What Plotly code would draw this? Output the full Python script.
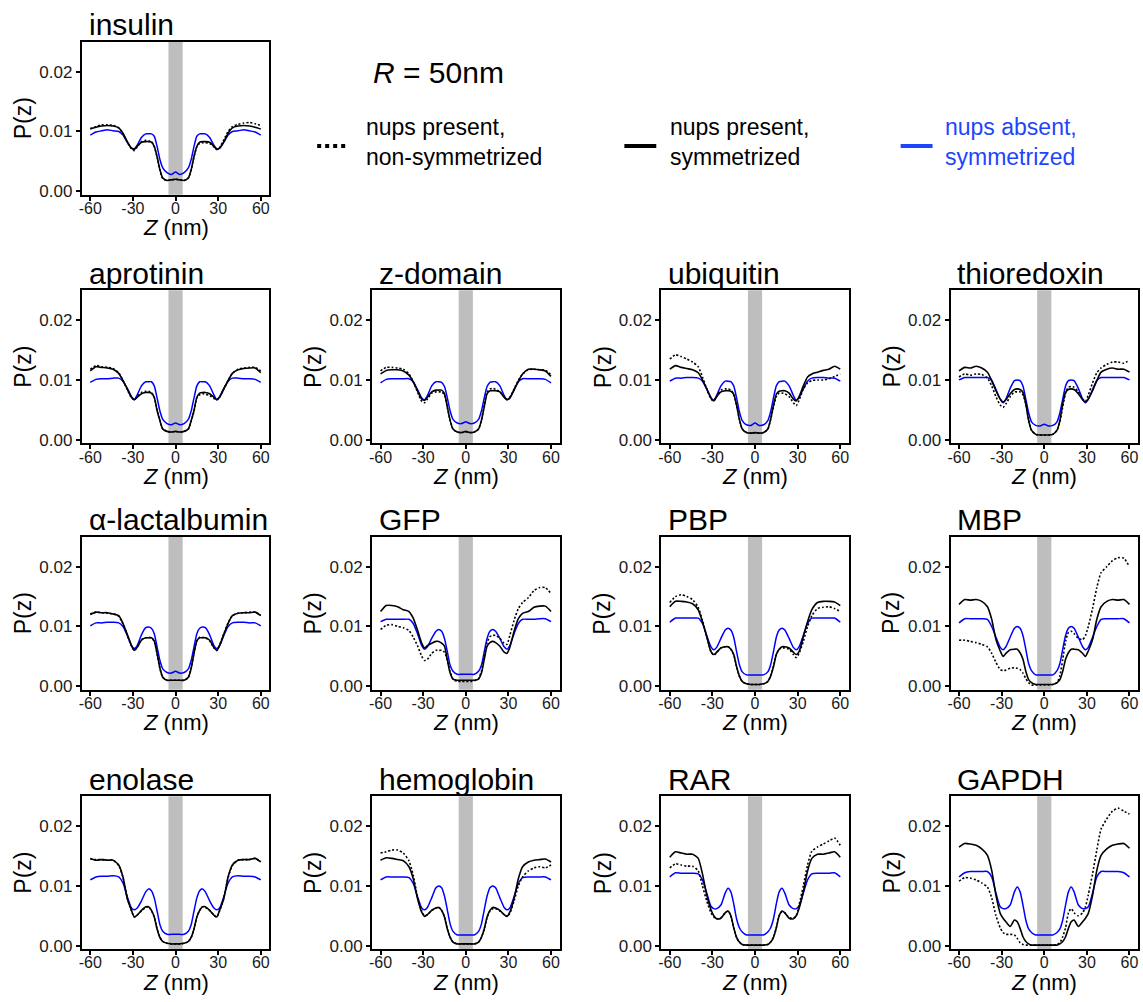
import plotly.graph_objects as go

W, H = 1143, 1002

# ---------------- data ----------------
Z = [-60, -56, -52, -48, -44, -40, -37, -34, -31, -29, -27, -24, -21, -19, -17, -15, -13, -11, -9, -6, -3,
     0, 3, 6, 9, 11, 13, 15, 17, 19, 21, 24, 27, 29, 31, 34, 37, 40, 44, 48, 52, 56, 60]

BAND = [-5, 5]
X_TICKS = [-60, -30, 0, 30, 60]
X_TICK_LABELS = ["-60", "-30", "0", "30", "60"]
Y_TICKS = [0, 0.01, 0.02]
Y_TICK_LABELS = ["0.00", "0.01", "0.02"]

PROTEINS = ["insulin", "aprotinin", "z-domain", "ubiquitin", "thioredoxin",
            "α-lactalbumin", "GFP", "PBP", "MBP",
            "enolase", "hemoglobin", "RAR", "GAPDH"]

SERIES_NAMES = ["nups present,<br>non-symmetrized", "nups present,<br>symmetrized", "nups absent,<br>symmetrized"]

insulin_dot = [.0105, .0108, .0111, .0111, .0110, .0106, .0096, .0082, .0071, .0068, .0074, .0083, .0085, .0084, .0083, .0075, .0057, .0035, .0021, .0018, .0019,
               .0020, .0019, .0018, .0022, .0036, .0058, .0074, .0080, .0081, .0081, .0080, .0074, .0070, .0073, .0086, .0100, .0108, .0112, .0114, .0115, .0113, .0110]
insulin_sym = [.0104, .0107, .0109, .0110, .0109, .0106, .0097, .0083, .0072, .0070, .0075, .0082, .0083, .0083, .0082, .0075, .0058, .0036, .0022, .0018, .0019,
               .0020, .0019, .0018, .0022, .0036, .0058, .0075, .0082, .0083, .0083, .0082, .0075, .0070, .0072, .0083, .0097, .0106, .0109, .0110, .0109, .0107, .0104]
insulin_abs = [.0094, .0099, .0101, .0103, .0101, .0100, .0094, .0082, .0072, .0071, .0077, .0090, .0096, .0096, .0096, .0092, .0075, .0053, .0039, .0031, .0028,
               .0032, .0028, .0031, .0039, .0053, .0075, .0092, .0096, .0096, .0096, .0090, .0077, .0071, .0072, .0082, .0094, .0100, .0101, .0103, .0101, .0099, .0094]

aprotinin_dot = [.0118, .0124, .0122, .0121, .0119, .0112, .0099, .0084, .0070, .0067, .0072, .0079, .0081, .0081, .0079, .0071, .0049, .0032, .0018, .0014, .0013,
                 .0014, .0013, .0014, .0018, .0031, .0048, .0070, .0075, .0077, .0076, .0074, .0069, .0067, .0071, .0085, .0099, .0111, .0118, .0120, .0121, .0121, .0115]
aprotinin_sym = [.0115, .0122, .0121, .0120, .0118, .0111, .0099, .0085, .0071, .0067, .0071, .0077, .0079, .0079, .0078, .0071, .0049, .0032, .0018, .0014, .0013,
                 .0014, .0013, .0014, .0018, .0032, .0049, .0071, .0078, .0079, .0079, .0077, .0071, .0067, .0071, .0085, .0099, .0111, .0117, .0119, .0120, .0120, .0112]
aprotinin_abs = [.0096, .0101, .0102, .0102, .0103, .0103, .0098, .0086, .0072, .0067, .0075, .0090, .0097, .0097, .0097, .0090, .0070, .0048, .0034, .0027, .0025,
                 .0028, .0025, .0027, .0034, .0048, .0070, .0090, .0097, .0097, .0097, .0090, .0075, .0067, .0072, .0086, .0098, .0103, .0103, .0102, .0102, .0101, .0096]

zdomain_dot = [.0115, .0121, .0121, .0120, .0118, .0110, .0097, .0080, .0064, .0062, .0068, .0078, .0080, .0080, .0080, .0075, .0054, .0032, .0018, .0013, .0012,
               .0013, .0012, .0013, .0018, .0033, .0058, .0080, .0085, .0086, .0084, .0080, .0072, .0068, .0071, .0085, .0099, .0110, .0117, .0118, .0117, .0116, .0109]
zdomain_sym = [.0110, .0116, .0117, .0117, .0115, .0108, .0097, .0082, .0068, .0066, .0071, .0080, .0083, .0083, .0083, .0077, .0055, .0032, .0018, .0013, .0012,
               .0014, .0012, .0013, .0018, .0032, .0055, .0077, .0082, .0082, .0082, .0080, .0071, .0067, .0070, .0083, .0098, .0110, .0118, .0118, .0117, .0115, .0106]
zdomain_abs = [.0095, .0101, .0102, .0102, .0102, .0102, .0097, .0084, .0070, .0067, .0074, .0090, .0097, .0097, .0096, .0089, .0070, .0048, .0034, .0028, .0027,
               .0030, .0027, .0028, .0034, .0048, .0070, .0089, .0096, .0097, .0097, .0090, .0074, .0067, .0070, .0084, .0097, .0102, .0102, .0102, .0102, .0101, .0095]

ubiquitin_dot = [.0135, .0142, .0139, .0135, .0130, .0122, .0105, .0085, .0068, .0065, .0073, .0083, .0085, .0085, .0083, .0076, .0058, .0034, .0018, .0012, .0011,
                 .0011, .0011, .0012, .0018, .0034, .0055, .0072, .0078, .0078, .0077, .0072, .0062, .0057, .0066, .0085, .0095, .0099, .0100, .0100, .0102, .0106, .0110]
ubiquitin_sym = [.0118, .0124, .0121, .0119, .0117, .0112, .0100, .0085, .0070, .0065, .0072, .0080, .0082, .0082, .0081, .0076, .0058, .0034, .0018, .0012, .0011,
                 .0012, .0011, .0012, .0018, .0034, .0058, .0076, .0081, .0082, .0082, .0078, .0068, .0065, .0072, .0090, .0105, .0110, .0113, .0116, .0118, .0123, .0118]
ubiquitin_abs = [.0098, .0103, .0103, .0104, .0104, .0103, .0098, .0085, .0070, .0066, .0074, .0090, .0098, .0098, .0097, .0090, .0070, .0047, .0032, .0025, .0024,
                 .0028, .0024, .0025, .0032, .0047, .0070, .0090, .0097, .0098, .0098, .0090, .0074, .0066, .0070, .0085, .0098, .0103, .0104, .0104, .0103, .0103, .0098]

thioredoxin_dot = [.0105, .0110, .0108, .0110, .0109, .0103, .0090, .0072, .0058, .0054, .0060, .0072, .0080, .0080, .0080, .0075, .0060, .0034, .0016, .0009, .0008,
                   .0008, .0008, .0009, .0016, .0030, .0055, .0078, .0088, .0089, .0088, .0080, .0068, .0064, .0075, .0095, .0112, .0120, .0126, .0130, .0130, .0128, .0133]
thioredoxin_sym = [.0115, .0121, .0120, .0123, .0120, .0113, .0099, .0082, .0068, .0063, .0067, .0077, .0084, .0085, .0084, .0079, .0060, .0032, .0016, .0009, .0008,
                   .0008, .0008, .0009, .0016, .0032, .0060, .0079, .0084, .0085, .0084, .0077, .0067, .0063, .0068, .0082, .0099, .0113, .0118, .0120, .0118, .0118, .0113]
thioredoxin_abs = [.0100, .0104, .0104, .0104, .0104, .0104, .0099, .0084, .0068, .0062, .0068, .0086, .0099, .0100, .0099, .0090, .0068, .0045, .0030, .0024, .0023,
                   .0026, .0023, .0024, .0030, .0045, .0068, .0090, .0099, .0100, .0099, .0086, .0068, .0062, .0068, .0084, .0099, .0104, .0104, .0104, .0104, .0104, .0100]

lactalbumin_dot = [.0121, .0124, .0123, .0122, .0121, .0117, .0104, .0086, .0067, .0060, .0066, .0078, .0081, .0082, .0081, .0075, .0054, .0030, .0015, .0010, .0010,
                   .0010, .0010, .0010, .0015, .0030, .0056, .0076, .0082, .0082, .0081, .0076, .0064, .0060, .0069, .0088, .0106, .0118, .0122, .0123, .0124, .0124, .0119]
lactalbumin_sym = [.0120, .0124, .0123, .0123, .0121, .0118, .0105, .0087, .0068, .0060, .0065, .0077, .0081, .0081, .0081, .0076, .0055, .0030, .0015, .0010, .0010,
                   .0010, .0010, .0010, .0015, .0030, .0055, .0076, .0081, .0081, .0081, .0077, .0065, .0060, .0068, .0087, .0105, .0118, .0122, .0123, .0123, .0124, .0118]
lactalbumin_abs = [.0101, .0106, .0106, .0107, .0107, .0106, .0100, .0085, .0068, .0063, .0068, .0086, .0098, .0099, .0097, .0088, .0066, .0043, .0029, .0023, .0022,
                   .0025, .0022, .0023, .0029, .0043, .0066, .0088, .0097, .0099, .0098, .0086, .0068, .0063, .0068, .0085, .0100, .0106, .0107, .0107, .0106, .0106, .0101]

gfp_dot = [.0095, .0102, .0103, .0100, .0098, .0093, .0082, .0068, .0050, .0043, .0045, .0055, .0060, .0060, .0060, .0057, .0044, .0024, .0012, .0008, .0008,
           .0008, .0008, .0009, .0013, .0025, .0050, .0073, .0083, .0085, .0085, .0080, .0072, .0070, .0085, .0110, .0130, .0140, .0148, .0160, .0165, .0165, .0155]
gfp_sym = [.0125, .0135, .0135, .0133, .0128, .0125, .0114, .0094, .0072, .0064, .0068, .0072, .0075, .0075, .0072, .0067, .0044, .0022, .0012, .0010, .0010,
           .0010, .0010, .0010, .0012, .0022, .0045, .0067, .0073, .0075, .0073, .0067, .0057, .0055, .0065, .0092, .0113, .0122, .0125, .0132, .0134, .0134, .0125]
gfp_abs = [.0108, .0112, .0112, .0112, .0112, .0112, .0105, .0088, .0068, .0062, .0066, .0080, .0092, .0095, .0092, .0080, .0058, .0035, .0025, .0020, .0020,
           .0020, .0020, .0020, .0025, .0035, .0058, .0080, .0092, .0095, .0092, .0080, .0066, .0062, .0068, .0088, .0105, .0112, .0112, .0112, .0113, .0113, .0108]

pbp_dot = [.0140, .0150, .0153, .0150, .0145, .0132, .0110, .0083, .0058, .0052, .0056, .0064, .0066, .0066, .0062, .0053, .0033, .0017, .0008, .0004, .0003,
           .0003, .0003, .0004, .0008, .0017, .0033, .0053, .0062, .0064, .0064, .0062, .0053, .0048, .0055, .0075, .0100, .0118, .0130, .0132, .0133, .0130, .0125]
pbp_sym = [.0133, .0142, .0142, .0141, .0138, .0128, .0108, .0083, .0058, .0053, .0057, .0064, .0066, .0066, .0062, .0053, .0033, .0017, .0008, .0004, .0003,
           .0003, .0003, .0004, .0008, .0017, .0033, .0053, .0062, .0066, .0066, .0064, .0057, .0053, .0058, .0083, .0108, .0128, .0140, .0142, .0142, .0141, .0135]
pbp_abs = [.0107, .0114, .0114, .0114, .0114, .0114, .0105, .0085, .0066, .0061, .0065, .0080, .0094, .0097, .0094, .0082, .0058, .0036, .0024, .0019, .0019,
           .0019, .0019, .0019, .0024, .0036, .0058, .0082, .0094, .0097, .0094, .0080, .0065, .0061, .0066, .0085, .0105, .0114, .0114, .0114, .0114, .0114, .0107]

mbp_dot = [.0077, .0077, .0075, .0073, .0070, .0066, .0055, .0040, .0028, .0026, .0027, .0030, .0031, .0030, .0028, .0022, .0013, .0006, .0002, .0002, .0002,
           .0002, .0002, .0003, .0006, .0018, .0045, .0075, .0090, .0092, .0088, .0080, .0078, .0085, .0100, .0130, .0165, .0190, .0200, .0210, .0215, .0214, .0200]
mbp_sym = [.0137, .0145, .0144, .0145, .0142, .0133, .0112, .0078, .0059, .0050, .0055, .0061, .0062, .0062, .0056, .0045, .0025, .0011, .0006, .0003, .0003,
           .0003, .0003, .0003, .0006, .0011, .0025, .0045, .0056, .0062, .0062, .0061, .0055, .0050, .0059, .0078, .0112, .0133, .0142, .0145, .0144, .0145, .0137]
mbp_abs = [.0106, .0113, .0113, .0113, .0113, .0112, .0100, .0082, .0065, .0061, .0066, .0082, .0097, .0100, .0097, .0085, .0062, .0038, .0026, .0019, .0019,
           .0019, .0019, .0019, .0026, .0038, .0062, .0085, .0097, .0100, .0097, .0082, .0066, .0061, .0065, .0082, .0100, .0112, .0113, .0113, .0113, .0113, .0106]

enolase_dot = [.0145, .0144, .0144, .0143, .0143, .0134, .0114, .0080, .0058, .0048, .0051, .0058, .0064, .0065, .0059, .0048, .0028, .0014, .0007, .0004, .0003,
               .0003, .0003, .0004, .0007, .0014, .0028, .0048, .0059, .0065, .0064, .0059, .0051, .0048, .0058, .0080, .0114, .0134, .0143, .0144, .0144, .0146, .0141]
enolase_sym = [.0146, .0143, .0144, .0143, .0143, .0135, .0115, .0079, .0059, .0048, .0051, .0059, .0065, .0065, .0059, .0048, .0028, .0014, .0007, .0004, .0003,
               .0003, .0003, .0004, .0007, .0014, .0028, .0048, .0059, .0065, .0065, .0059, .0051, .0048, .0059, .0079, .0115, .0135, .0143, .0144, .0144, .0146, .0140]
enolase_abs = [.0110, .0115, .0116, .0116, .0117, .0115, .0105, .0082, .0063, .0060, .0063, .0075, .0090, .0095, .0092, .0080, .0058, .0035, .0024, .0019, .0019,
               .0019, .0019, .0019, .0024, .0035, .0058, .0080, .0092, .0095, .0090, .0075, .0063, .0060, .0063, .0082, .0105, .0115, .0117, .0116, .0116, .0115, .0110]

hemoglobin_dot = [.0155, .0157, .0160, .0160, .0155, .0142, .0118, .0082, .0058, .0050, .0052, .0059, .0063, .0064, .0059, .0048, .0028, .0014, .0006, .0003, .0003,
                  .0003, .0003, .0003, .0006, .0014, .0028, .0047, .0058, .0062, .0062, .0058, .0052, .0049, .0054, .0075, .0100, .0115, .0125, .0130, .0132, .0130, .0135]
hemoglobin_sym = [.0143, .0147, .0146, .0144, .0142, .0132, .0112, .0079, .0056, .0049, .0052, .0059, .0063, .0064, .0059, .0048, .0028, .0014, .0006, .0003, .0003,
                  .0003, .0003, .0003, .0006, .0014, .0028, .0048, .0059, .0064, .0063, .0059, .0052, .0049, .0056, .0079, .0112, .0132, .0140, .0143, .0144, .0145, .0140]
hemoglobin_abs = [.0110, .0115, .0115, .0115, .0115, .0114, .0104, .0082, .0063, .0060, .0064, .0080, .0097, .0100, .0097, .0083, .0060, .0036, .0024, .0018, .0018,
                  .0018, .0018, .0018, .0024, .0036, .0060, .0083, .0097, .0100, .0097, .0080, .0064, .0060, .0063, .0082, .0104, .0114, .0115, .0115, .0115, .0115, .0110]

rar_dot = [.0130, .0137, .0135, .0133, .0133, .0125, .0100, .0075, .0055, .0048, .0045, .0047, .0055, .0058, .0050, .0030, .0014, .0006, .0002, .0001, .0001,
           .0001, .0001, .0001, .0002, .0006, .0014, .0030, .0050, .0057, .0055, .0047, .0046, .0050, .0068, .0100, .0135, .0158, .0165, .0170, .0175, .0180, .0168]
rar_sym = [.0148, .0157, .0155, .0153, .0153, .0146, .0120, .0085, .0060, .0050, .0045, .0046, .0055, .0058, .0050, .0030, .0014, .0006, .0002, .0001, .0001,
           .0001, .0001, .0001, .0002, .0006, .0014, .0030, .0050, .0058, .0055, .0046, .0045, .0050, .0062, .0090, .0125, .0146, .0153, .0153, .0155, .0157, .0148]
rar_abs = [.0115, .0122, .0121, .0121, .0121, .0120, .0110, .0088, .0066, .0062, .0062, .0068, .0088, .0096, .0090, .0070, .0045, .0030, .0023, .0018, .0018,
           .0018, .0018, .0018, .0023, .0030, .0045, .0070, .0090, .0096, .0088, .0068, .0062, .0062, .0066, .0088, .0110, .0120, .0121, .0121, .0121, .0122, .0115]

gapdh_dot = [.0108, .0114, .0113, .0110, .0105, .0098, .0080, .0050, .0030, .0022, .0019, .0019, .0018, .0012, .0005, .0002, .0001, .0001, .0001, .0001, .0001,
             .0001, .0001, .0001, .0002, .0005, .0015, .0030, .0055, .0062, .0055, .0050, .0055, .0065, .0085, .0120, .0160, .0195, .0212, .0225, .0230, .0225, .0220]
gapdh_sym = [.0165, .0171, .0170, .0168, .0162, .0151, .0126, .0084, .0054, .0046, .0040, .0032, .0043, .0040, .0029, .0015, .0007, .0003, .0001, .0001, .0001,
             .0001, .0001, .0001, .0001, .0003, .0007, .0015, .0029, .0040, .0043, .0032, .0040, .0046, .0054, .0084, .0126, .0151, .0162, .0168, .0170, .0171, .0163]
gapdh_abs = [.0115, .0122, .0124, .0124, .0124, .0124, .0115, .0088, .0065, .0062, .0062, .0068, .0090, .0098, .0090, .0068, .0043, .0028, .0022, .0018, .0018,
             .0018, .0018, .0018, .0022, .0028, .0043, .0068, .0090, .0098, .0090, .0068, .0062, .0062, .0065, .0088, .0115, .0124, .0124, .0124, .0124, .0122, .0115]

PANEL_DATA = [
    (insulin_dot, insulin_sym, insulin_abs),
    (aprotinin_dot, aprotinin_sym, aprotinin_abs),
    (zdomain_dot, zdomain_sym, zdomain_abs),
    (ubiquitin_dot, ubiquitin_sym, ubiquitin_abs),
    (thioredoxin_dot, thioredoxin_sym, thioredoxin_abs),
    (lactalbumin_dot, lactalbumin_sym, lactalbumin_abs),
    (gfp_dot, gfp_sym, gfp_abs),
    (pbp_dot, pbp_sym, pbp_abs),
    (mbp_dot, mbp_sym, mbp_abs),
    (enolase_dot, enolase_sym, enolase_abs),
    (hemoglobin_dot, hemoglobin_sym, hemoglobin_abs),
    (rar_dot, rar_sym, rar_abs),
    (gapdh_dot, gapdh_sym, gapdh_abs),
]

# ---------------- layout geometry (pixels) ----------------
GRID_POS = [(0, 0), (1, 0), (1, 1), (1, 2), (1, 3), (2, 0), (2, 1), (2, 2), (2, 3),
            (3, 0), (3, 1), (3, 2), (3, 3)]
COL_LEFT = [79, 370, 660, 950]
ROW_TOP = [42, 292, 540, 801]
BOX_W, BOX_H = 188, 154
X_RANGE = [-66, 66]
Y_RANGE = [-0.0006, 0.025]

FONT = "Liberation Sans, Arial, Helvetica, sans-serif"
BLACK = "#000000"
BLUE = "#0000ff"
LEG_BLUE = "#1f45fc"
BAND_COLOR = "#bebebe"


def px(x):
    return x / W


def py(y):
    return 1 - y / H


fig = go.Figure()
shapes = []
annotations = []
layout_axes = {}

for i, name in enumerate(PROTEINS):
    r, c = GRID_POS[i]
    left = COL_LEFT[c]
    top = ROW_TOP[r]
    suf = "" if i == 0 else str(i + 1)
    xa, ya = "x" + suf, "y" + suf

    common = dict(showline=True, mirror=True, linecolor=BLACK, linewidth=2,
                  ticks="outside", ticklen=4, tickwidth=1.5, tickcolor=BLACK,
                  showgrid=False, zeroline=False, fixedrange=True,
                  tickfont=dict(family=FONT, size=16, color="#1a1a1a"))
    layout_axes["xaxis" + suf] = dict(common, domain=[px(left), px(left + BOX_W)], anchor=ya,
                                      range=X_RANGE, tickmode="array", tickvals=X_TICKS,
                                      ticktext=X_TICK_LABELS, ticklabelstandoff=-6)
    layout_axes["yaxis" + suf] = dict(common, domain=[py(top + BOX_H), py(top)], anchor=xa,
                                      range=Y_RANGE, tickmode="array", tickvals=Y_TICKS,
                                      ticktext=Y_TICK_LABELS, tickfont=dict(family=FONT, size=17, color="#1a1a1a"))

    shapes.append(dict(type="rect", xref=xa, yref=ya + " domain", x0=BAND[0], x1=BAND[1],
                       y0=0, y1=1, fillcolor=BAND_COLOR, line=dict(width=0), layer="below"))

    dot, sym, ab = PANEL_DATA[i]
    fig.add_trace(go.Scatter(x=Z, y=ab, mode="lines", xaxis=xa, yaxis=ya, showlegend=False,
                             line=dict(color=BLUE, width=1.5, shape="spline", smoothing=0.6)))
    fig.add_trace(go.Scatter(x=Z, y=sym, mode="lines", xaxis=xa, yaxis=ya, showlegend=False,
                             line=dict(color=BLACK, width=1.6, shape="spline", smoothing=0.6)))
    fig.add_trace(go.Scatter(x=Z, y=dot, mode="lines", xaxis=xa, yaxis=ya, showlegend=False,
                             line=dict(color=BLACK, width=1.6, dash="2px,2px", shape="spline", smoothing=0.6)))

    # panel title
    annotations.append(dict(text=name, x=px(left + 5), y=py(top - 17), xref="paper", yref="paper",
                            xanchor="left", yanchor="middle", showarrow=False,
                            font=dict(family=FONT, size=30, color=BLACK)))
    # axis titles
    annotations.append(dict(text="<i>Z</i> (nm)", x=px(left + BOX_W / 2), y=py(top + BOX_H + 33),
                            xref="paper", yref="paper", xanchor="center", yanchor="middle",
                            showarrow=False, font=dict(family=FONT, size=22, color=BLACK)))
    annotations.append(dict(text="P(z)", x=px(left - 59), y=py(top + BOX_H / 2),
                            xref="paper", yref="paper", xanchor="center", yanchor="middle",
                            textangle=-90, showarrow=False, font=dict(family=FONT, size=23, color=BLACK)))

# ---------------- legend block ----------------
annotations.append(dict(text="<i>R</i> = 50nm", x=px(369), y=py(73), xref="paper", yref="paper",
                        xanchor="left", yanchor="middle", showarrow=False,
                        font=dict(family=FONT, size=30, color=BLACK)))

LEG_SYMBOL_X = [(315, 345), (623, 655), (900, 932)]
LEG_TEXT_X = [362, 667, 942]
LEG_STYLE = [dict(color=BLACK, width=4, dash="4px,4px"),
             dict(color=BLACK, width=4),
             dict(color=LEG_BLUE, width=4)]
LEG_TEXT_COLOR = [BLACK, BLACK, LEG_BLUE]
for k in range(3):
    x0, x1 = LEG_SYMBOL_X[k]
    shapes.append(dict(type="line", xref="paper", yref="paper", x0=px(x0), x1=px(x1),
                       y0=py(147), y1=py(147), line=LEG_STYLE[k]))
    annotations.append(dict(text=SERIES_NAMES[k], x=px(LEG_TEXT_X[k]), y=py(143), xref="paper",
                            yref="paper", xanchor="left", yanchor="middle", align="left",
                            showarrow=False,
                            font=dict(family=FONT, size=23, color=LEG_TEXT_COLOR[k])))

fig.update_layout(width=W, height=H, autosize=False, margin=dict(l=0, r=0, t=0, b=0),
                  paper_bgcolor="white", plot_bgcolor="white", showlegend=False,
                  shapes=shapes, annotations=annotations, **layout_axes)

fig.write_html("out.html", config={"displayModeBar": False})
